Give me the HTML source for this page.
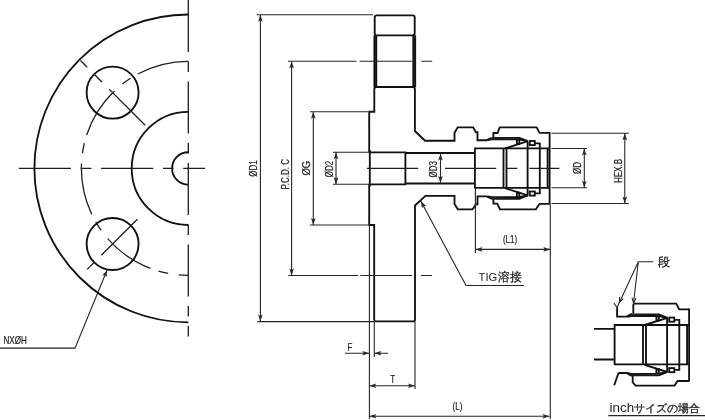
<!DOCTYPE html>
<html><head><meta charset="utf-8">
<style>
html,body{margin:0;padding:0;background:#fff;width:705px;height:420px;overflow:hidden}
svg{position:absolute;left:0;top:0;display:block;will-change:transform}
text{font-family:"Liberation Sans",sans-serif;fill:#1e1e1e}
.o{fill:none;stroke:#111;stroke-width:1.85;stroke-linejoin:miter;stroke-linecap:butt}
.d{fill:none;stroke:#262626;stroke-width:1.1}
.c{fill:none;stroke:#1e1e1e;stroke-width:1.3}
.ar{fill:#2a2a2a;stroke:none}
</style></head><body>
<svg width="705" height="420" viewBox="0 0 705 420">
<defs>
  <!-- arrow pointing up, tip at 0,0 -->
  <path id="au" d="M0,0 L2.3,7 L0,5.6 L-2.3,7 Z"/>
</defs>

<!-- ================= FRONT VIEW ================= -->
<g>
  <path class="o" stroke-width="1.7" d="M188.3,14.5 A153.9,153.9 0 0 0 188.3,322.3"/>
  <path class="c" stroke-dasharray="52.5 8.5 10 10.5" d="M188.3,61.3 A107,107 0 0 0 188.3,275.3"/>
  <path class="o" stroke-width="1.75" d="M188.3,111.8 A56.6,56.6 0 0 0 188.3,225"/>
  <path class="o" stroke-width="1.75" d="M188.3,152.2 A16.2,16.2 0 0 0 188.3,184.6"/>
  <line class="c" stroke-width="1.3" stroke-dasharray="52 9.5 10.5 9.5" x1="188.3" y1="0" x2="188.3" y2="336.4"/>
  <line class="c" stroke-width="1.3" stroke-dasharray="52.2 9.8 10.6 9.6" x1="18.8" y1="168.4" x2="205.1" y2="168.4"/>
  <circle class="o" stroke-width="1.75" cx="112.6" cy="92.6" r="26"/>
  <circle class="o" stroke-width="1.75" cx="112.6" cy="244" r="26"/>
  <!-- radial centerlines upper (d from center along (-.7071,-.7071)) -->
  <line class="c" x1="145.2" y1="125.2" x2="109.1" y2="89.1"/>
  <line class="c" x1="102.0" y1="82.0" x2="94.2" y2="74.2"/>
  <line class="c" x1="87.2" y1="67.2" x2="80.5" y2="60.5"/>
  <!-- lower -->
  <line class="c" x1="137.4" y1="219.2" x2="101.3" y2="255.3"/>
  <line class="c" x1="93.8" y1="262.8" x2="87.2" y2="269.4"/>
  <!-- leader NXOH -->
  <path class="d" d="M107.1,270 L75,348.1 H0"/>
  <use href="#au" class="ar" transform="translate(107.1,270) rotate(22.4)"/>
  <text x="3.5" y="343.8" font-size="10.4" stroke="#1e1e1e" stroke-width="0.2" transform="translate(3.5,0) scale(0.78,1) translate(-3.5,0)">NXØH</text>
</g>

<!-- ================= SIDE VIEW ================= -->
<g>
  <!-- flange top part -->
  <rect class="o" x="374.7" y="15.3" width="40" height="20" rx="2"/>
  <path class="o" stroke-width="1.5" d="M374.4,35.3 V87 M376.3,35.3 V87 M413.3,35.3 V87 M415.2,35.3 V87"/>
  <!-- outline below hole, upper -->
  <path class="o" d="M369.2,152.3 V111.7 H374.3 V89 Q374.3,87 376.5,87 H412.9 Q414.9,87 414.9,89 V131 L425,140.7 H454.5 V132.7 L457.7,127.3 H473.2 L476,132.2 H477.5 V140.2 H486.8 L491.9,137.8"/>
  <!-- lower outline -->
  <path class="o" stroke-width="1.45" d="M369.2,184.3 V225 H374.2 V319.5 Q374.2,321.3 376,321.3 H413.2 Q415,321.3 415,319.5 V205.5 L425.5,195.9 H454.5 V203.9 L457.8,209.3 H472.5 L476,204.4 H477.5 V196.4 H486.8 L491.9,198.8"/>
  <line class="o" stroke-width="2.4" x1="369.8" y1="150" x2="369.8" y2="186.5"/>
  <!-- bore -->
  <path class="o" d="M369.2,152.3 H405.4 V184.3 H369.2"/>
  <path class="o" d="M405.4,153 H474.9 M405.4,183.5 H474.9"/>
  <line class="o" x1="474.9" y1="147.6" x2="474.9" y2="188.6"/>
  <!-- fitting -->
  <path class="o" d="M493.4,137.2 V133 H497.5 L499.7,127.3 H536.7 L539.5,132.8 H549.6"/>
  <path class="o" d="M493.4,199.6 V203.6 H497.3 L500,209.3 H535.9 L539.6,203.8 H549.6"/>
  <g id="fit">
    <line class="o" stroke-width="1.8" x1="549.6" y1="132" x2="549.6" y2="204.6"/>
    <path class="o" d="M474.9,148.4 H549 M474.9,187.8 H549"/>
    <!-- thread / ferrule -->
    <path class="o" stroke-width="1.6" d="M491.9,137.8 H519.4 L527.8,141.2 M 491.9,198.8 H 519.4 L 527.8,195.4"/>
    <path class="o" stroke-width="1.4" d="M488,140.2 L491.5,139.4 H516.8 M 488.0,196.4 L 491.5,197.2 H 516.8"/>
    <path class="o" stroke-width="1.3" d="M519.4,139.6 L527.8,141.2 M 519.4,197.0 L 527.8,195.4"/>
    <path class="o" stroke-width="1.4" d="M505.1,148.4 L527.8,141.2 M 505.1,188.2 L 527.8,195.4"/>
    <path class="o" stroke-width="1.5" d="M527.6,141.2 V148.4 M 527.6,195.4 V 188.2"/>
    <path class="o" stroke-width="1.5" d="M534.9,143.3 H539.8 V148.4 M 534.9,193.3 H 539.8 V 188.2"/>
    <path fill="#222" d="M488,140.2 L492,137.8 H519 L500,139.2 Z M488,196.4 L492,198.8 H519 L500,197.4 Z"/>
    <path class="o" stroke-width="1.05" d="M503.5,148.4 V187.8 M506.5,148.4 V187.8 M527.6,148.4 V188.2 M539.8,148.4 V188.2 M547.6,148.4 V187.8"/>
    <rect class="o" stroke-width="1.2" x="516.9" y="139.5" width="2.4" height="4.5"/>
    <rect class="o" stroke-width="1.2" x="516.9" y="192.6" width="2.4" height="4.5"/>
    <rect class="o" stroke-width="1.3" x="529.7" y="141" width="5.1" height="4.1"/>
    <rect class="o" stroke-width="1.3" x="529.7" y="191.5" width="5.1" height="4.1"/>
  </g>

  <!-- centerline side -->
  <path class="c" d="M367,168.4 H418.1 M445,168.4 H496.2 M506.4,168.4 H517.4 M529.4,168.4 H559.4"/>
  <!-- PCD ext/centre line -->
  <path class="d" d="M288,61.3 H356.5 M359.6,61.3 H411.9 M421.3,61.3 H432.2"/>
  <path class="d" d="M288.4,275.5 H358 M360.3,275.5 H412 M421,275.5 H432"/>

  <!-- dimension lines -->
  <path class="d" d="M256.7,14.7 H373 M257.4,321.6 H374 M260.4,14.7 V321.6"/>
  <use href="#au" class="ar" transform="translate(260.4,14.7)"/>
  <use href="#au" class="ar" transform="translate(260.4,321.6) rotate(180)"/>
  <path class="d" d="M291.6,61.3 V275.5"/>
  <use href="#au" class="ar" transform="translate(291.6,61.3)"/>
  <use href="#au" class="ar" transform="translate(291.6,275.5) rotate(180)"/>
  <path class="d" d="M310,111.7 H368 M310,225 H368 M313.3,111.7 V225"/>
  <use href="#au" class="ar" transform="translate(313.3,111.7)"/>
  <use href="#au" class="ar" transform="translate(313.3,225) rotate(180)"/>
  <path class="d" d="M333,152.2 H369 M333,184.2 H369 M336,152.2 V184.2"/>
  <use href="#au" class="ar" transform="translate(336,152.2)"/>
  <use href="#au" class="ar" transform="translate(336,184.2) rotate(180)"/>
  <path class="d" d="M440.5,153.5 V183"/>
  <use href="#au" class="ar" transform="translate(440.5,153.5)"/>
  <use href="#au" class="ar" transform="translate(440.5,183) rotate(180)"/>
  <path class="d" d="M551.5,148.5 H587 M551.5,187.8 H587 M584.3,148.5 V187.8"/>
  <use href="#au" class="ar" transform="translate(584.3,148.5)"/>
  <use href="#au" class="ar" transform="translate(584.3,187.8) rotate(180)"/>
  <path class="d" d="M551.5,133.3 H628.8 M551.5,203.5 H628.8 M624.8,133.3 V203.5"/>
  <use href="#au" class="ar" transform="translate(624.8,133.3)"/>
  <use href="#au" class="ar" transform="translate(624.8,203.5) rotate(180)"/>
  <!-- L1 -->
  <path class="d" d="M475.4,188.5 V253 M550.3,204.5 V419 M475.4,249.4 H550.3"/>
  <use href="#au" class="ar" transform="translate(475.4,249.4) rotate(-90)"/>
  <use href="#au" class="ar" transform="translate(550.3,249.4) rotate(90)"/>
  <!-- F T L -->
  <path class="d" d="M369.4,225 V419 M374.3,321.3 V357 M415,321.3 V389"/>
  <path class="d" d="M345,353.3 H369.3 M374.3,353.3 H388"/>
  <use href="#au" class="ar" transform="translate(369.3,353.3) rotate(90)"/>
  <use href="#au" class="ar" transform="translate(374.3,353.3) rotate(-90)"/>
  <path class="d" d="M369.3,385.7 H415"/>
  <use href="#au" class="ar" transform="translate(369.3,385.7) rotate(-90)"/>
  <use href="#au" class="ar" transform="translate(415,385.7) rotate(90)"/>
  <path class="d" d="M369.3,416.3 H549.6"/>
  <use href="#au" class="ar" transform="translate(369.3,416.3) rotate(-90)"/>
  <use href="#au" class="ar" transform="translate(549.6,416.3) rotate(90)"/>
  <!-- TIG leader -->
  <path class="d" d="M420.8,201 L466,285.5 H524"/>
  <use href="#au" class="ar" transform="translate(420.8,201) rotate(-28.1)"/>

  <!-- labels -->
  <g font-size="10" stroke="#1e1e1e" stroke-width="0.2">
    <text transform="translate(257.2,168.5) rotate(-90) scale(0.8,1)" text-anchor="middle">ØD1</text>
    <text transform="translate(289.3,174.3) rotate(-90) scale(0.8,1)" text-anchor="middle">P.C.D. C</text>
    <text transform="translate(310.2,168.2) rotate(-90) scale(0.95,1)" text-anchor="middle">ØG</text>
    <text transform="translate(332.5,169) rotate(-90) scale(0.8,1)" text-anchor="middle">ØD2</text>
    <text transform="translate(437,169.3) rotate(-90) scale(0.8,1)" text-anchor="middle">ØD3</text>
    <text transform="translate(580.8,168.1) rotate(-90) scale(0.8,1)" text-anchor="middle">ØD</text>
    <text transform="translate(622,171) rotate(-90) scale(0.8,1)" text-anchor="middle">HEX.B</text>
    <text transform="translate(510,242.8) scale(0.8,1)" text-anchor="middle">(L1)</text>
    <text transform="translate(350,350.7) scale(0.8,1)" text-anchor="middle">F</text>
    <text transform="translate(392.8,382.9) scale(0.8,1)" text-anchor="middle">T</text>
    <text transform="translate(457.5,410) scale(0.8,1)" text-anchor="middle">(L)</text>
  </g>
  <text x="478.6" y="281.3" font-size="11.2">TIG<tspan font-size="11.7" dx="0.7" stroke="#1e1e1e" stroke-width="0.25">溶接</tspan></text>
</g>

<!-- ================= INCH DETAIL ================= -->
<g>
  <use href="#fit" transform="translate(139.5,176.6)"/>
  <path class="o" d="M633.3,313.6 V305.2 Q633.3,303.6 634.9,303.6 H676.2 L679.2,309.4 H689.3"/>
  <path class="o" d="M632.7,375.4 V382.5 L635.6,385.6 H674.5 L677.6,381 H689.3"/>
  <path class="o" d="M617.1,307.5 V316.6 H626.6 L631.7,313.9"/>
  <path class="o" d="M618.6,373 H626.6 L631.7,375.9 M618.6,372.7 L614.2,385.3"/>
  <path class="o" d="M594,328.9 H614.6 M594,359.5 H614.6 M614.6,324.2 V365"/>
  <path class="d" stroke-width="1.2" d="M653.3,261.7 H638.3 L617.1,307.5 M638.3,261.7 L633.5,303.5"/>
  <path class="d" stroke-width="1.2" d="M623.4,298.7 L619.4,302.5 L619.7,297 M636.1,298.2 L633.5,303 L632,297.7 M613.9,303.2 L617.1,307.5"/>
  <text x="657.8" y="266.2" font-size="11.8" stroke="#1e1e1e" stroke-width="0.3">段</text>
  <text x="609.6" y="411.8" font-size="13.4">inch</text><text x="634" y="411.8" font-size="11.3" stroke="#1e1e1e" stroke-width="0.3">サイズの場合</text>
  <line class="d" stroke-width="1.2" x1="608.3" y1="415.6" x2="705" y2="415.6"/>
</g>
</svg>
</body></html>
